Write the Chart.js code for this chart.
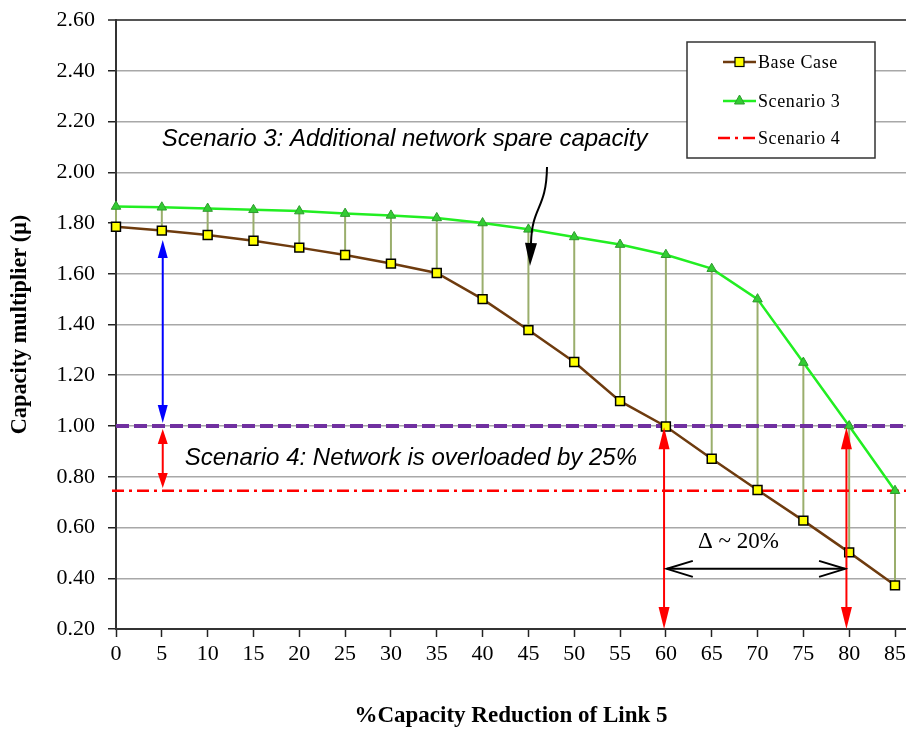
<!DOCTYPE html>
<html><head><meta charset="utf-8">
<script src="https://cdn.jsdelivr.net/npm/chart.js@4.4.1/dist/chart.umd.min.js"></script>
<style>html,body{margin:0;padding:0;background:#fff;}#wrap{width:906px;height:729px;position:relative;}</style>
</head><body><div id="wrap"><canvas id="c" width="906" height="729"></canvas></div>
<script>
// ---- data ----
const capacityReduction = [0,5,10,15,20,25,30,35,40,45,50,55,60,65,70,75,80,85];
const baseCase  = [1.785,1.770,1.753,1.730,1.703,1.674,1.640,1.603,1.500,1.378,1.252,1.098,0.998,0.871,0.748,0.627,0.502,0.372];
const scenario3 = [1.865,1.862,1.857,1.852,1.847,1.837,1.830,1.820,1.800,1.775,1.745,1.715,1.675,1.620,1.500,1.250,1.000,0.745];
const scenario4Level = 0.745;
const thresholdLevel = 1.0;
const yTickValues = [0.2,0.4,0.6,0.8,1.0,1.2,1.4,1.6,1.8,2.0,2.2,2.4,2.6];
const seriesNames = ['Base Case','Scenario 3','Scenario 4'];
const xTitle = '%Capacity Reduction of Link 5';
const yTitle = 'Capacity multiplier (\u03bc)';
const note3 = 'Scenario 3: Additional network spare capacity';
const note4 = 'Scenario 4: Network is overloaded by 25%';
const noteDelta = '\u0394 ~ 20%';

const C_BASE = '#6E3B0E', C_S3 = '#22EE22', C_S4 = '#FF0000', C_THR = '#7030A0', C_DROP = '#9AAE6C';

function arrow(ctx, x1, y1, x2, y2, color, lw, hl, hw, startHead, endHead) {
  const ang = Math.atan2(y2 - y1, x2 - x1);
  const ux = Math.cos(ang), uy = Math.sin(ang);
  ctx.save();
  ctx.strokeStyle = color; ctx.fillStyle = color; ctx.lineWidth = lw;
  const sx = startHead ? x1 + ux * hl * 0.8 : x1, sy = startHead ? y1 + uy * hl * 0.8 : y1;
  const ex = endHead ? x2 - ux * hl * 0.8 : x2, ey = endHead ? y2 - uy * hl * 0.8 : y2;
  ctx.beginPath(); ctx.moveTo(sx, sy); ctx.lineTo(ex, ey); ctx.stroke();
  const head = (tx, ty, dx, dy) => {
    ctx.beginPath();
    ctx.moveTo(tx, ty);
    ctx.lineTo(tx - dx * hl - dy * hw / 2, ty - dy * hl + dx * hw / 2);
    ctx.lineTo(tx - dx * hl + dy * hw / 2, ty - dy * hl - dx * hw / 2);
    ctx.closePath(); ctx.fill();
  };
  if (endHead) head(x2, y2, ux, uy);
  if (startHead) head(x1, y1, -ux, -uy);
  ctx.restore();
}

const refLines = {
  id: 'refLines',
  beforeDatasetsDraw(chart) {
    const {ctx, chartArea: a, scales: {x, y}} = chart;
    ctx.save();
    ctx.strokeStyle = C_DROP; ctx.lineWidth = 2;
    capacityReduction.forEach((v, i) => {
      const px = x.getPixelForValue(v);
      ctx.beginPath();
      ctx.moveTo(px, y.getPixelForValue(scenario3[i]));
      ctx.lineTo(px, y.getPixelForValue(baseCase[i]));
      ctx.stroke();
    });
    let py = y.getPixelForValue(scenario4Level);
    ctx.strokeStyle = C_S4; ctx.lineWidth = 2.5; ctx.setLineDash([12, 5, 3, 5]);
    ctx.beginPath(); ctx.moveTo(a.left - 4, py); ctx.lineTo(a.right, py); ctx.stroke();
    py = y.getPixelForValue(thresholdLevel);
    ctx.strokeStyle = C_THR; ctx.lineWidth = 4; ctx.setLineDash([13, 5]);
    ctx.beginPath(); ctx.moveTo(a.left, py); ctx.lineTo(a.right, py); ctx.stroke();
    ctx.restore();
  }
};

const notes = {
  id: 'notes',
  afterDatasetsDraw(chart) {
    const {ctx, scales: {x, y}} = chart;
    const X = v => x.getPixelForValue(v), Y = v => y.getPixelForValue(v);
    ctx.save();
    ctx.fillStyle = '#000';
    ctx.textBaseline = 'alphabetic'; ctx.textAlign = 'left';
    ctx.font = 'italic 24px "Liberation Sans", Arial, sans-serif';
    ctx.fillText(note3, X(5.0), Y(2.103));
    ctx.fillText(note4, X(7.5), Y(0.846));
    ctx.font = '23px "Liberation Serif", "Times New Roman", serif';
    ctx.fillText(noteDelta, X(63.5), Y(0.519));
    ctx.strokeStyle = '#000'; ctx.lineWidth = 2;
    ctx.beginPath();
    ctx.moveTo(X(47.03), Y(2.021));
    ctx.bezierCurveTo(X(46.95), Y(1.85), X(45.4), Y(1.87), X(45.28), Y(1.72));
    ctx.stroke();
    arrow(ctx, X(45.28), Y(1.72), X(45.17), Y(1.631), '#000', 2, 23, 12, false, true);
    arrow(ctx, X(5.1), Y(1.733), X(5.1), Y(1.012), '#0000FF', 2, 18, 10, true, true);
    arrow(ctx, X(5.1), Y(0.988), X(5.1), Y(0.756), '#FF0000', 2, 15, 10, true, true);
    arrow(ctx, X(59.8), Y(0.995), X(59.8), Y(0.2), '#FF0000', 2, 22, 11, true, true);
    arrow(ctx, X(79.7), Y(0.995), X(79.7), Y(0.2), '#FF0000', 2, 22, 11, true, true);
    const ay = Y(0.437), ax1 = X(60.1), ax2 = X(79.55);
    ctx.strokeStyle = '#000'; ctx.lineWidth = 2;
    ctx.beginPath(); ctx.moveTo(ax1, ay); ctx.lineTo(ax2, ay); ctx.stroke();
    ctx.beginPath();
    ctx.moveTo(ax1 + 26, ay - 8); ctx.lineTo(ax1, ay); ctx.lineTo(ax1 + 26, ay + 8);
    ctx.moveTo(ax2 - 26, ay - 8); ctx.lineTo(ax2, ay); ctx.lineTo(ax2 - 26, ay + 8);
    ctx.stroke();
    ctx.restore();
  }
};

const boxLegend = {
  id: 'boxLegend',
  afterDraw(chart) {
    const {ctx, chartArea: a} = chart;
    const bx = a.right - 219, by = a.top + 22, bw = 188, bh = 116;
    ctx.save();
    ctx.fillStyle = '#fff'; ctx.fillRect(bx, by, bw, bh);
    ctx.strokeStyle = '#333'; ctx.lineWidth = 1.5; ctx.strokeRect(bx, by, bw, bh);
    const lx1 = bx + 36, lx2 = bx + 69, mx = (lx1 + lx2) / 2, tx = bx + 71;
    const rows = [by + 20, by + 59, by + 96];
    ctx.strokeStyle = C_BASE; ctx.lineWidth = 2.5;
    ctx.beginPath(); ctx.moveTo(lx1, rows[0]); ctx.lineTo(lx2, rows[0]); ctx.stroke();
    ctx.fillStyle = '#FFFF00'; ctx.strokeStyle = '#000'; ctx.lineWidth = 1.2;
    ctx.fillRect(mx - 4.5, rows[0] - 4.5, 9, 9); ctx.strokeRect(mx - 4.5, rows[0] - 4.5, 9, 9);
    ctx.strokeStyle = C_S3; ctx.lineWidth = 2.5;
    ctx.beginPath(); ctx.moveTo(lx1, rows[1]); ctx.lineTo(lx2, rows[1]); ctx.stroke();
    ctx.fillStyle = '#33CC33'; ctx.strokeStyle = '#2E9A2E'; ctx.lineWidth = 1;
    ctx.beginPath(); ctx.moveTo(mx, rows[1] - 6); ctx.lineTo(mx + 5, rows[1] + 3); ctx.lineTo(mx - 5, rows[1] + 3); ctx.closePath(); ctx.fill(); ctx.stroke();
    ctx.strokeStyle = C_S4; ctx.lineWidth = 2.5; ctx.setLineDash([12, 5, 3, 5]);
    ctx.beginPath(); ctx.moveTo(bx + 31, rows[2]); ctx.lineTo(lx2 + 2, rows[2]); ctx.stroke();
    ctx.setLineDash([]);
    ctx.fillStyle = '#000';
    ctx.font = '18px "Liberation Serif", "Times New Roman", serif';
    ctx.letterSpacing = '0.6px';
    ctx.textBaseline = 'middle'; ctx.textAlign = 'left';
    seriesNames.forEach((n, i) => ctx.fillText(n, tx, rows[i] + 1));
    ctx.restore();
  }
};

new Chart(document.getElementById('c').getContext('2d'), {
  type: 'line',
  data: {
    datasets: [
      {
        label: seriesNames[0],
        data: capacityReduction.map((v, i) => ({x: v, y: baseCase[i]})),
        borderColor: C_BASE, borderWidth: 2.5, tension: 0, clip: false,
        pointStyle: 'rect', pointRadius: 6.3,
        pointBackgroundColor: '#FFFF00', pointBorderColor: '#000', pointBorderWidth: 1.5
      },
      {
        label: seriesNames[1],
        data: capacityReduction.map((v, i) => ({x: v, y: scenario3[i]})),
        borderColor: C_S3, borderWidth: 2.5, tension: 0, clip: false,
        pointStyle: 'triangle', pointRadius: 5.5,
        pointBackgroundColor: '#33CC33', pointBorderColor: '#2E9A2E', pointBorderWidth: 1
      }
    ]
  },
  options: {
    responsive: false, animation: false,
    layout: {autoPadding: false, padding: {top: 20, left: 0, right: 0, bottom: 0}},
    plugins: {legend: {display: false}, tooltip: {enabled: false}},
    scales: {
      x: {
        type: 'linear', min: 0, max: 86.2,
        afterBuildTicks: s => { s.ticks = capacityReduction.map(v => ({value: v})); },
        afterFit: s => { s.height = 100; s.paddingLeft = 0; s.paddingRight = 0; },
        ticks: {color: '#000', padding: 4, maxRotation: 0, autoSkip: false,
          font: {family: '"Liberation Serif", "Times New Roman", serif', size: 22}},
        grid: {drawOnChartArea: false, drawTicks: true, tickLength: 8, tickColor: '#222', tickWidth: 1.5},
        border: {display: true, color: '#333', width: 2},
        title: {display: true, text: xTitle, color: '#000', padding: {top: 0, bottom: 0},
          font: {family: '"Liberation Serif", "Times New Roman", serif', size: 23, weight: 'bold', lineHeight: 1.1}}
      },
      y: {
        min: 0.2, max: 2.6,
        afterBuildTicks: s => { s.ticks = yTickValues.map(v => ({value: v})); },
        afterFit: s => { s.width = 116; s.paddingTop = 0; s.paddingBottom = 0; },
        ticks: {color: '#000', padding: 13, callback: v => Number(v).toFixed(2),
          font: {family: '"Liberation Serif", "Times New Roman", serif', size: 22}},
        grid: {
          color: c => (c.tick && Math.abs(c.tick.value - 2.6) < 1e-6) ? '#555' : '#A8A8A8',
          lineWidth: c => (c.tick && Math.abs(c.tick.value - 2.6) < 1e-6) ? 2 : 1.5,
          tickLength: 8, tickColor: '#222', tickWidth: 1.5
        },
        border: {display: true, color: '#333', width: 2},
        title: {display: true, text: yTitle, color: '#000', padding: {top: 7, bottom: 0},
          font: {family: '"Liberation Serif", "Times New Roman", serif', size: 22.3, weight: 'bold'}}
      }
    }
  },
  plugins: [refLines, notes, boxLegend]
});
</script></body></html>
